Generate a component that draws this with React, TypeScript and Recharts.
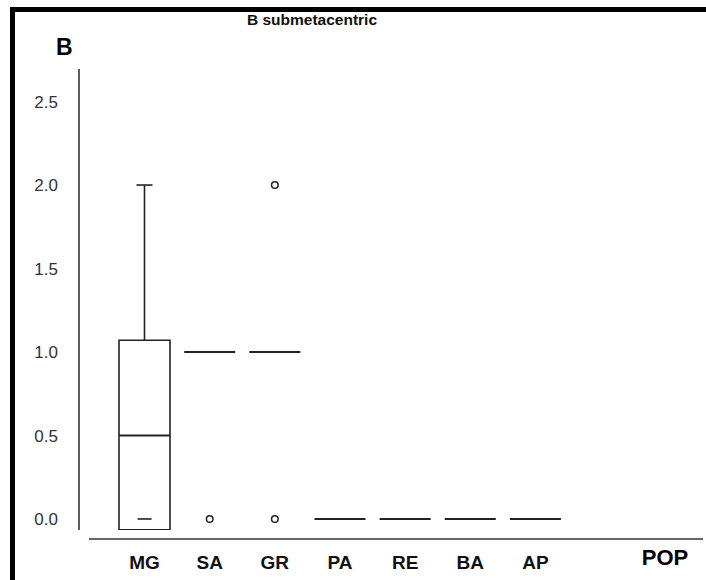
import React from 'react';
import { Bar, ComposedChart, Scatter, XAxis, YAxis } from 'recharts';

const CATEGORIES = ['MG', 'SA', 'GR', 'PA', 'RE', 'BA', 'AP'];
const Q1 = [-0.065, 1, 1, 0, 0, 0, 0];
const MEDIAN = [0.5, 1, 1, 0, 0, 0, 0];
const Q3 = [1.07, 1, 1, 0, 0, 0, 0];
const WHISKER_LOW = [0, null, null, null, null, null, null];
const WHISKER_HIGH = [2.0, null, null, null, null, null, null];
// outliers, up to two per population
const OUTLIER_A = [null, 0, 0, null, null, null, null];
const OUTLIER_B = [null, null, 2.0, null, null, null, null];

const Y_TICKS = [0, 0.5, 1, 1.5, 2, 2.5];

const INK = '#222';
const FONT = '"Liberation Sans", Arial, sans-serif';
const BOX_W = 51;

const rows = CATEGORIES.map((name, i) => ({
  name,
  box: Q3[i] !== Q1[i] ? [Q1[i], Q3[i]] : null,
  whisker: WHISKER_HIGH[i] != null ? [Q3[i], WHISKER_HIGH[i]] : null,
  median: MEDIAN[i],
  low: WHISKER_LOW[i],
  outA: OUTLIER_A[i],
  outB: OUTLIER_B[i],
}));

function WhiskerShape(props: any) {
  const { x, y, width, height } = props;
  if (height == null || !width) return null;
  const cx = x + width / 2;
  return (
    <g>
      <line x1={cx} x2={cx} y1={y} y2={y + height} stroke={INK} strokeWidth={1.6} />
      <line x1={cx - 8} x2={cx + 8} y1={y} y2={y} stroke={INK} strokeWidth={1.6} />
    </g>
  );
}

function MedianShape(props: any) {
  const { cx, cy } = props;
  if (cx == null || cy == null) return null;
  return (
    <line x1={cx - BOX_W / 2} x2={cx + BOX_W / 2} y1={cy} y2={cy} stroke={INK} strokeWidth={2} />
  );
}

function LowCapShape(props: any) {
  const { cx, cy } = props;
  if (cx == null || cy == null) return null;
  return <line x1={cx - 7} x2={cx + 7} y1={cy} y2={cy} stroke={INK} strokeWidth={1.6} />;
}

function OutlierShape(props: any) {
  const { cx, cy } = props;
  if (cx == null || cy == null) return null;
  return <circle cx={cx} cy={cy} r={3.3} fill="none" stroke={INK} strokeWidth={1.5} />;
}

export default function App() {
  return (
    <div
      style={{
        position: 'fixed',
        left: 0,
        top: 0,
        width: 706,
        height: 580,
        overflow: 'hidden',
        background: '#fff',
        fontFamily: FONT,
      }}
    >
      <div
        style={{
          position: 'absolute',
          left: 10,
          top: 7,
          width: 800,
          height: 700,
          borderLeft: '5px solid #000',
          borderTop: '5px solid #000',
        }}
      />
      <div style={{ position: 'absolute', left: 0, top: 0 }}>
        <ComposedChart
          width={706}
          height={580}
          data={rows}
          margin={{ top: 69, right: 3, bottom: 20, left: 0 }}
        >
          <XAxis
            dataKey="name"
            height={30}
            padding={{ left: 33, right: 135 }}
            axisLine={false}
            tickLine={false}
            tickSize={0}
            tickMargin={26}
            interval={0}
            tick={{ fontSize: 19, fontWeight: 700, fill: '#111', fontFamily: FONT }}
          />
          <XAxis xAxisId="w" dataKey="name" hide padding={{ left: 33, right: 135 }} />
          <YAxis
            type="number"
            width={79}
            domain={[-0.066, 2.695]}
            ticks={Y_TICKS}
            tickFormatter={(v: number) => v.toFixed(1)}
            tickLine={false}
            tickSize={0}
            tickMargin={21}
            axisLine={{ stroke: '#333', strokeWidth: 1.6 }}
            tick={{ fontSize: 17, fill: '#333', fontFamily: FONT }}
            allowDataOverflow
          />
          <Bar
            dataKey="box"
            barSize={BOX_W}
            fill="none"
            stroke={INK}
            strokeWidth={1.6}
            isAnimationActive={false}
          />
          <Bar
            dataKey="whisker"
            xAxisId="w"
            barSize={BOX_W}
            shape={<WhiskerShape />}
            isAnimationActive={false}
          />
          <Scatter dataKey="median" shape={<MedianShape />} isAnimationActive={false} />
          <Scatter dataKey="low" shape={<LowCapShape />} isAnimationActive={false} />
          <Scatter dataKey="outA" shape={<OutlierShape />} isAnimationActive={false} />
          <Scatter dataKey="outB" shape={<OutlierShape />} isAnimationActive={false} />
        </ComposedChart>
      </div>
      <svg
        width={706}
        height={580}
        style={{ position: 'absolute', left: 0, top: 0, pointerEvents: 'none' }}
      >
        <line x1={89} x2={703} y1={539} y2={539} stroke="#333" strokeWidth={1.6} />
        <text x={312} y={25} textAnchor="middle" fontSize={15.5} fontWeight={700} fill="#111" fontFamily={FONT}>
          B submetacentric
        </text>
        <text x={56} y={55} fontSize={23} fontWeight={700} fill="#000" fontFamily={FONT}>
          B
        </text>
        <text x={665} y={565} textAnchor="middle" fontSize={22} fontWeight={700} fill="#000" fontFamily={FONT}>
          POP
        </text>
      </svg>
    </div>
  );
}
